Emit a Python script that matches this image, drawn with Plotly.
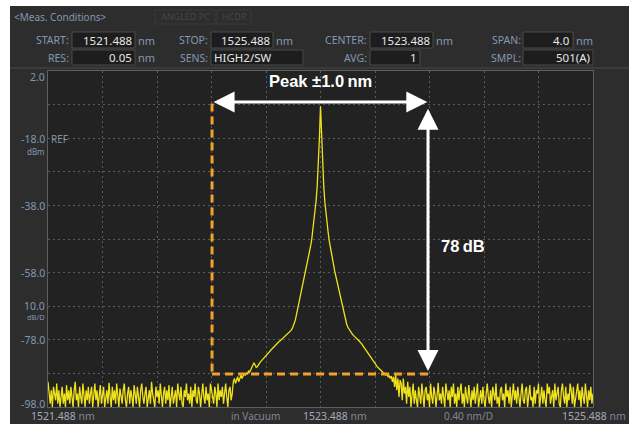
import numpy as np
import plotly.graph_objects as go

# ---------------- data ----------------
START_NM = 1521.488
STOP_NM = 1525.488
CENTER_NM = 1523.488
N_POINTS = 501
Y_TOP = 2.0
Y_BOTTOM = -98.0

noise_left = [
    -90.5, -95, -97, -93, -98, -92, -94, -96, -91, -97,
    -93, -98, -95, -92, -97, -94, -98, -91.5, -96, -93,
    -97, -92, -95, -98, -93, -90.5, -96, -94, -98, -92,
    -95, -97, -91, -94, -98, -93, -96, -92, -97, -94,
    -92, -98, -95, -91, -96, -93, -98, -94, -91.5, -97,
    -94, -92, -98, -95, -93, -97, -90.8, -95, -98, -92,
    -96, -93, -97, -91, -94, -98, -92.5, -95, -97, -93,
    -91, -96, -98, -94, -92, -97, -93, -95, -98, -91.5,
    -94, -97, -92, -96, -98, -93, -91, -95, -97, -94,
    -92, -98, -95, -93, -97, -90.5, -94, -96, -98, -92,
    -95, -93, -97, -91, -96, -98, -94, -92, -97, -93,
    -96, -91.5, -98, -94, -92, -97, -95, -93, -98, -91,
    -94, -96, -92, -97, -98, -93, -95, -91, -96, -94,
    -97, -92, -98, -93, -95, -91, -96, -97, -92, -94,
    -98, -93, -91, -95, -97, -92, -96, -94, -98, -91,
    -93, -95, -97, -92, -94, -98, -91, -96, -93, -95,
    -92, -97, -94, -91, -95, -98, -93, -92, -96, -94,
]

peak_profile = [
    -90.5, -89.5, -91, -90, -89, -90.5, -89.2, -88.5, -89.5, -88.8,
    -88, -88.6, -87.8, -88.3, -87.2, -87.6, -86.8, -86, -85.2, -84.8,
    -85.5, -86.2, -86, -85.4, -85, -84.5, -84.2, -83.8, -83.5, -83,
    -82.8, -82.3, -82, -81.6, -81.2, -80.8, -80.5, -80.2, -79.8, -79.5,
    -79.2, -78.9, -78.5, -78.3, -78, -77.8, -77.5, -77.2, -77, -76.7,
    -76.3, -76, -75.6, -75.2, -74.7, -74, -73, -72, -70.5, -69,
    -67.5, -66, -64.5, -63, -61.5, -60, -58.5, -57, -55.5, -54,
    -52, -50, -48, -45.5, -43, -40, -36.5, -32, -26, -18,
    -8.5,
    -18.5, -26.5, -32.5, -37, -40.5, -43.5, -46, -48.5, -50.5, -52.5,
    -54.3, -56, -57.5, -59, -60.5, -62, -63.5, -65, -66.5, -68,
    -69.5, -71, -72.3, -73.3, -74.2, -74.8, -75.3, -75.8, -76.2, -76.6,
    -77, -77.3, -77.6, -77.9, -78.2, -78.5, -78.9, -79.3, -79.8, -80.3,
    -80.8, -81.3, -81.8, -82.3, -82.8, -83.3, -83.8, -84.3, -84.8, -85.2,
    -85.6, -86, -86.3, -86.7, -87, -87.3, -87.6, -87.9, -88.2, -88.5,
    -88.2, -89, -88.6, -89.5, -88.8, -90.5, -89, -92, -88.5, -93,
    -89.5, -95, -90, -91, -96, -89.5, -94, -92, -97, -90.5,
]

noise_right = [
    -95, -92, -98, -94, -91, -97, -93, -96, -98, -92,
    -94, -97, -91, -95, -98, -93, -92, -96, -94, -98,
    -91, -95, -97, -92, -94, -98, -93, -90.8, -96, -94,
    -97, -92, -95, -98, -91, -94, -96, -93, -98, -92,
    -95, -91, -97, -94, -98, -92, -96, -93, -91, -97,
    -94, -98, -92, -95, -97, -91.5, -94, -98, -93, -96,
    -92, -97, -94, -91, -98, -95, -93, -97, -92, -96,
    -98, -94, -91, -95, -97, -93, -98, -92, -94, -96,
    -91, -97, -95, -98, -93, -92, -96, -94, -98, -91,
    -95, -93, -97, -92, -98, -94, -91, -96, -93, -97,
    -92, -95, -98, -94, -91, -96, -97, -93, -92, -98,
    -94, -91.5, -96, -95, -98, -92, -97, -93, -94, -91,
    -98, -95, -92, -97, -93, -96, -98, -91, -94, -92,
    -97, -95, -93, -98, -91, -96, -94, -92, -97, -98,
    -93, -91, -95, -97, -92, -98, -94, -96, -91, -93,
    -97, -92, -98, -95, -94, -91, -96, -93, -98, -92,
    -95, -97, -91, -94, -98, -93, -96, -92, -97, -94,
]

level_dbm = noise_left + peak_profile + noise_right
wavelength_nm = np.linspace(START_NM, STOP_NM, N_POINTS)

header_row1_labels = ["START:", "STOP:", "CENTER:", "SPAN:"]
header_row1_values = ["1521.488", "1525.488", "1523.488", "4.0"]
header_row2_labels = ["RES:", "SENS:", "AVG:", "SMPL:"]
header_row2_values = ["0.05", "HIGH2/SW", "1", "501(A)"]
header_row2_units = ["nm", "", "", ""]

y_label_values = ["2.0", "-18.0", "-38.0", "-58.0", "-78.0", "-98.0"]
x_label_texts = ["1521.488", "1523.488", "1525.488"]

# annotation (markup) values
peak_window_lo = 1522.692
peak_window_hi = 1524.277
peak_level_top = -7.2
floor_level = -88.2

# ---------------- layout helpers ----------------
W, H = 629, 424
L, R, T, B = 48, 593, 71, 407


def px(x):
    return (x - L) / (R - L)


def py(y):
    return (B - y) / (B - T)


PANEL = "#2d2d2d"
PLOT_BG = "#222222"
LABEL_C = "#8497b3"
VALUE_C = "#e6e6e6"
BOX_FILL = "#1d1d1d"
BOX_LINE = "#4b4b4b"
YELLOW = "#f0e31c"
ORANGE = "#f2a12e"
UI_FONT = "Noto Sans"

fig = go.Figure()
fig.add_trace(go.Scatter(
    x=wavelength_nm, y=level_dbm, mode="lines",
    line=dict(color=YELLOW, width=1.3), hoverinfo="skip", showlegend=False,
))

shapes = []
annotations = []

# white outer margins
shapes.append(dict(type="rect", xref="paper", yref="paper", x0=px(0), x1=px(10), y0=py(H), y1=py(0),
                   fillcolor="white", line_width=0, layer="below"))
shapes.append(dict(type="rect", xref="paper", yref="paper", x0=px(0), x1=px(W), y0=py(6), y1=py(0),
                   fillcolor="white", line_width=0, layer="below"))
# header separator
shapes.append(dict(type="line", xref="paper", yref="paper", x0=px(10), x1=px(W), y0=py(68), y1=py(68),
                   line=dict(color="#4a4a4a", width=1)))


def text(x, y, s, size=10.5, color=LABEL_C, anchor="left", bold=False, family=UI_FONT):
    annotations.append(dict(
        xref="paper", yref="paper", x=px(x), y=py(y), text=("<b>%s</b>" % s) if bold else s,
        showarrow=False, xanchor=anchor, yanchor="middle",
        font=dict(size=size, color=color, family=family), borderpad=0,
    ))


def box(x0, x1, y0, y1, line=BOX_LINE, fill=BOX_FILL):
    shapes.append(dict(type="rect", xref="paper", yref="paper", x0=px(x0), x1=px(x1), y0=py(y1), y1=py(y0),
                       fillcolor=fill, line=dict(color=line, width=1)))


# header title and faint buttons
text(13, 17, "&lt;Meas. Conditions&gt;", size=10)
box(155, 215, 10, 24, line="#3a3a3a", fill=PANEL)
box(217, 251, 10, 24, line="#3a3a3a", fill=PANEL)
text(185, 17, "ANGLED PC", size=9, color="#474747", anchor="center")
text(234, 17, "HCDR", size=9, color="#474747", anchor="center")

label_right = [70, 209, 368, 522]
row1_boxes = [(72, 135), (211, 273), (370, 433), (523, 573)]
row2_boxes = [(72, 135), (211, 303), (370, 420), (523, 593)]

for i in range(4):
    bx0, bx1 = row1_boxes[i]
    box(bx0, bx1, 32, 48)
    text(label_right[i], 40, header_row1_labels[i], anchor="right")
    text(bx1 - 2, 40, header_row1_values[i], size=11.5, color=VALUE_C, anchor="right")
    text(bx1 + 2, 40, "nm", size=11, anchor="left")

for i in range(4):
    bx0, bx1 = row2_boxes[i]
    box(bx0, bx1, 50, 65)
    text(label_right[i], 57.5, header_row2_labels[i], anchor="right")
    if header_row2_labels[i] == "SENS:":
        text(bx0 + 2, 57.5, header_row2_values[i], size=11.5, color=VALUE_C, anchor="left")
    else:
        text(bx1 - 2, 57.5, header_row2_values[i], size=11.5, color=VALUE_C, anchor="right")
    if header_row2_units[i]:
        text(bx1 + 2, 57.5, header_row2_units[i], size=11, anchor="left")

# y-axis labels
y_label_pix = [77, 139, 206, 273, 340, 404]
for s, yy in zip(y_label_values, y_label_pix):
    text(46, yy, s, size=10.5, anchor="right")
text(46, 151, "dBm", size=8, anchor="right")
text(50, 139, "REF", size=10, color="#8a93a3", anchor="left")
text(46, 306, "10.0", size=10.5, anchor="right")
text(46, 317, "dB/D", size=7.5, anchor="right")

# x-axis labels
text(30, 416, x_label_texts[0] + ' <span style="color:#7d8796">nm</span>', size=10.5, color="#a3abb8")
text(302, 416, x_label_texts[1] + ' <span style="color:#7d8796">nm</span>', size=10.5, color="#a3abb8")
text(627, 416, x_label_texts[2] + ' <span style="color:#7d8796">nm</span>', size=10.5, color="#a3abb8", anchor="right")
text(230, 416, "in Vacuum", size=10, color="#7d8796")
text(443, 416, "0.40 nm/D", size=10, color="#7d8796")

# orange dashed markup
shapes.append(dict(type="line", xref="x", yref="y", x0=peak_window_lo, x1=peak_window_lo,
                   y0=peak_level_top - 0.5, y1=floor_level,
                   line=dict(color=ORANGE, width=3, dash="8px,5px")))
shapes.append(dict(type="line", xref="x", yref="y", x0=peak_window_lo, x1=peak_window_hi,
                   y0=floor_level, y1=floor_level,
                   line=dict(color=ORANGE, width=3, dash="8px,5px")))

# white arrows
annotations.append(dict(
    xref="x", yref="y", axref="x", ayref="y",
    x=peak_window_hi - 0.005, y=peak_level_top, ax=peak_window_lo, ay=peak_level_top,
    text="", showarrow=True, arrowhead=2, startarrowhead=2, arrowside="end+start",
    arrowwidth=3, arrowsize=1.4, startarrowsize=1.4, arrowcolor="white", standoff=0, startstandoff=0,
))
annotations.append(dict(
    xref="x", yref="y", axref="x", ayref="y",
    x=peak_window_hi, y=peak_level_top - 2.0, ax=peak_window_hi, ay=floor_level + 0.5,
    text="", showarrow=True, arrowhead=2, startarrowhead=2, arrowside="end+start",
    arrowwidth=3, arrowsize=1.4, startarrowsize=1.4, arrowcolor="white", standoff=0, startstandoff=0,
))
text(320, 81, "Peak ±1.0\u2009nm", size=16.5, color="white", anchor="center", bold=True,
     family="Liberation Sans")
text(440, 246, "78\u2009dB", size=16.5, color="white", anchor="left", bold=True,
     family="Liberation Sans")

fig.update_layout(
    width=W, height=H,
    margin=dict(l=L, r=W - R, t=T, b=H - B, pad=0),
    paper_bgcolor=PANEL, plot_bgcolor=PLOT_BG,
    shapes=shapes, annotations=annotations,
    showlegend=False,
)
fig.update_xaxes(
    range=[START_NM, STOP_NM], dtick=0.4, tick0=START_NM, showticklabels=False, ticks="",
    showgrid=True, gridcolor="#5c5c5c", griddash="2px,3px", gridwidth=1,
    showline=True, linecolor="#5f5f5f", linewidth=1, mirror=True, zeroline=False, fixedrange=True,
)
fig.update_yaxes(
    range=[Y_BOTTOM, Y_TOP], dtick=10, tick0=Y_TOP, showticklabels=False, ticks="",
    showgrid=True, gridcolor="#5c5c5c", griddash="2px,3px", gridwidth=1,
    showline=True, linecolor="#5f5f5f", linewidth=1, mirror=True, zeroline=False, fixedrange=True,
)

fig.write_html(
    "out.html",
    config={"displayModeBar": False},
    post_script="document.body.style.margin='0';document.body.style.overflow='hidden';",
)
